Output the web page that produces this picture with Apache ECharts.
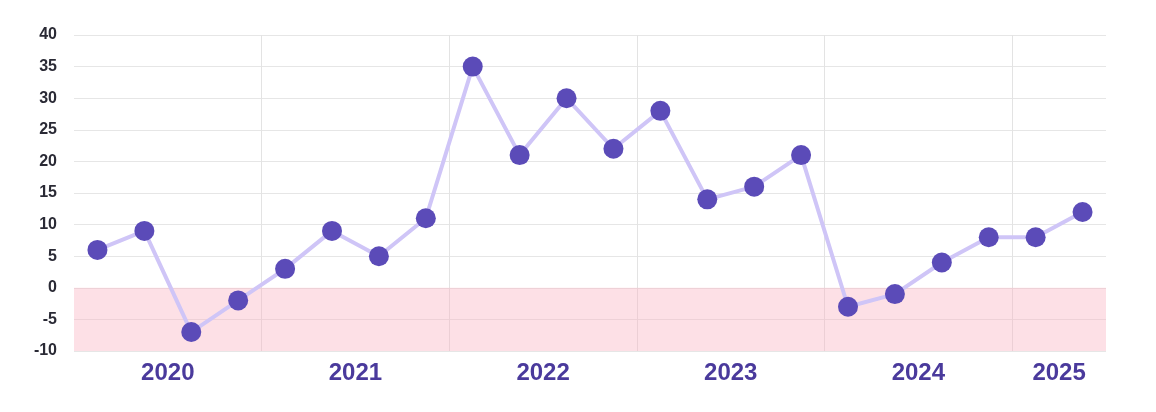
<!DOCTYPE html>
<html>
<head>
<meta charset="utf-8">
<script src="https://cdn.jsdelivr.net/npm/echarts@6/dist/echarts.min.js"></script>
<style>html,body{margin:0;padding:0;background:#fff}#c{width:1156px;height:412px}</style>
</head>
<body>
<div id="c"></div>
<script>
const quarters = ['2020Q1','2020Q2','2020Q3','2020Q4','2021Q1','2021Q2','2021Q3','2021Q4','2022Q1','2022Q2','2022Q3','2022Q4','2023Q1','2023Q2','2023Q3','2023Q4','2024Q1','2024Q2','2024Q3','2024Q4','2025Q1','2025Q2'];
const values = [6, 9, -7, -2, 3, 9, 5, 11, 35, 21, 30, 22, 28, 14, 16, 21, -3, -1, 4, 8, 8, 12];
const years = ['2020','2021','2022','2023','2024','2025'];
const yearCenters = [2, 6, 10, 14, 18, 21];
const yTicks = {min: -10, max: 40, interval: 5};

const chart = echarts.init(document.getElementById('c'));
chart.setOption({
  animation: false,
  grid: {left: 74, right: 50, top: 35, bottom: 61, containLabel: false},
  xAxis: [{
    type: 'category',
    data: quarters,
    boundaryGap: true,
    axisLine: {show: false},
    axisTick: {show: false},
    axisLabel: {show: false},
    splitLine: {show: true, showMaxLine: false, interval: (i) => i % 4 === 0 && i > 0, lineStyle: {color: '#e3e3e3', width: 1}}
  }, {
    type: 'value',
    min: 0, max: 22,
    position: 'bottom',
    axisLine: {show: false},
    axisTick: {show: false},
    splitLine: {show: false},
    axisLabel: {
      show: true,
      customValues: yearCenters,
      formatter: (v) => { const k = yearCenters.indexOf(v); return k >= 0 ? years[k] : ''; },
      color: '#4a3a9c', fontSize: 24, fontWeight: 'bold', fontFamily: 'Liberation Sans, Arial, sans-serif', margin: 10
    }
  }],
  yAxis: {
    type: 'value',
    min: yTicks.min, max: yTicks.max, interval: yTicks.interval,
    axisLine: {show: false},
    axisTick: {show: false},
    axisLabel: {color: '#2a2a35', fontSize: 16, fontWeight: 'bold', fontFamily: 'Liberation Sans, Arial, sans-serif', margin: 17},
    splitLine: {lineStyle: {color: '#e6e6e6', width: 1}}
  },
  series: [{
    type: 'line',
    xAxisIndex: 0,
    data: values,
    symbol: 'circle',
    symbolSize: 20,
    lineStyle: {color: '#cfc5f7', width: 4},
    itemStyle: {color: '#5b4bb8'},
    markArea: {
      silent: true,
      itemStyle: {color: 'rgba(250,178,193,0.4)'},
      data: [[{yAxis: -10}, {yAxis: 0}]]
    }
  }]
});
</script>
</body>
</html>
